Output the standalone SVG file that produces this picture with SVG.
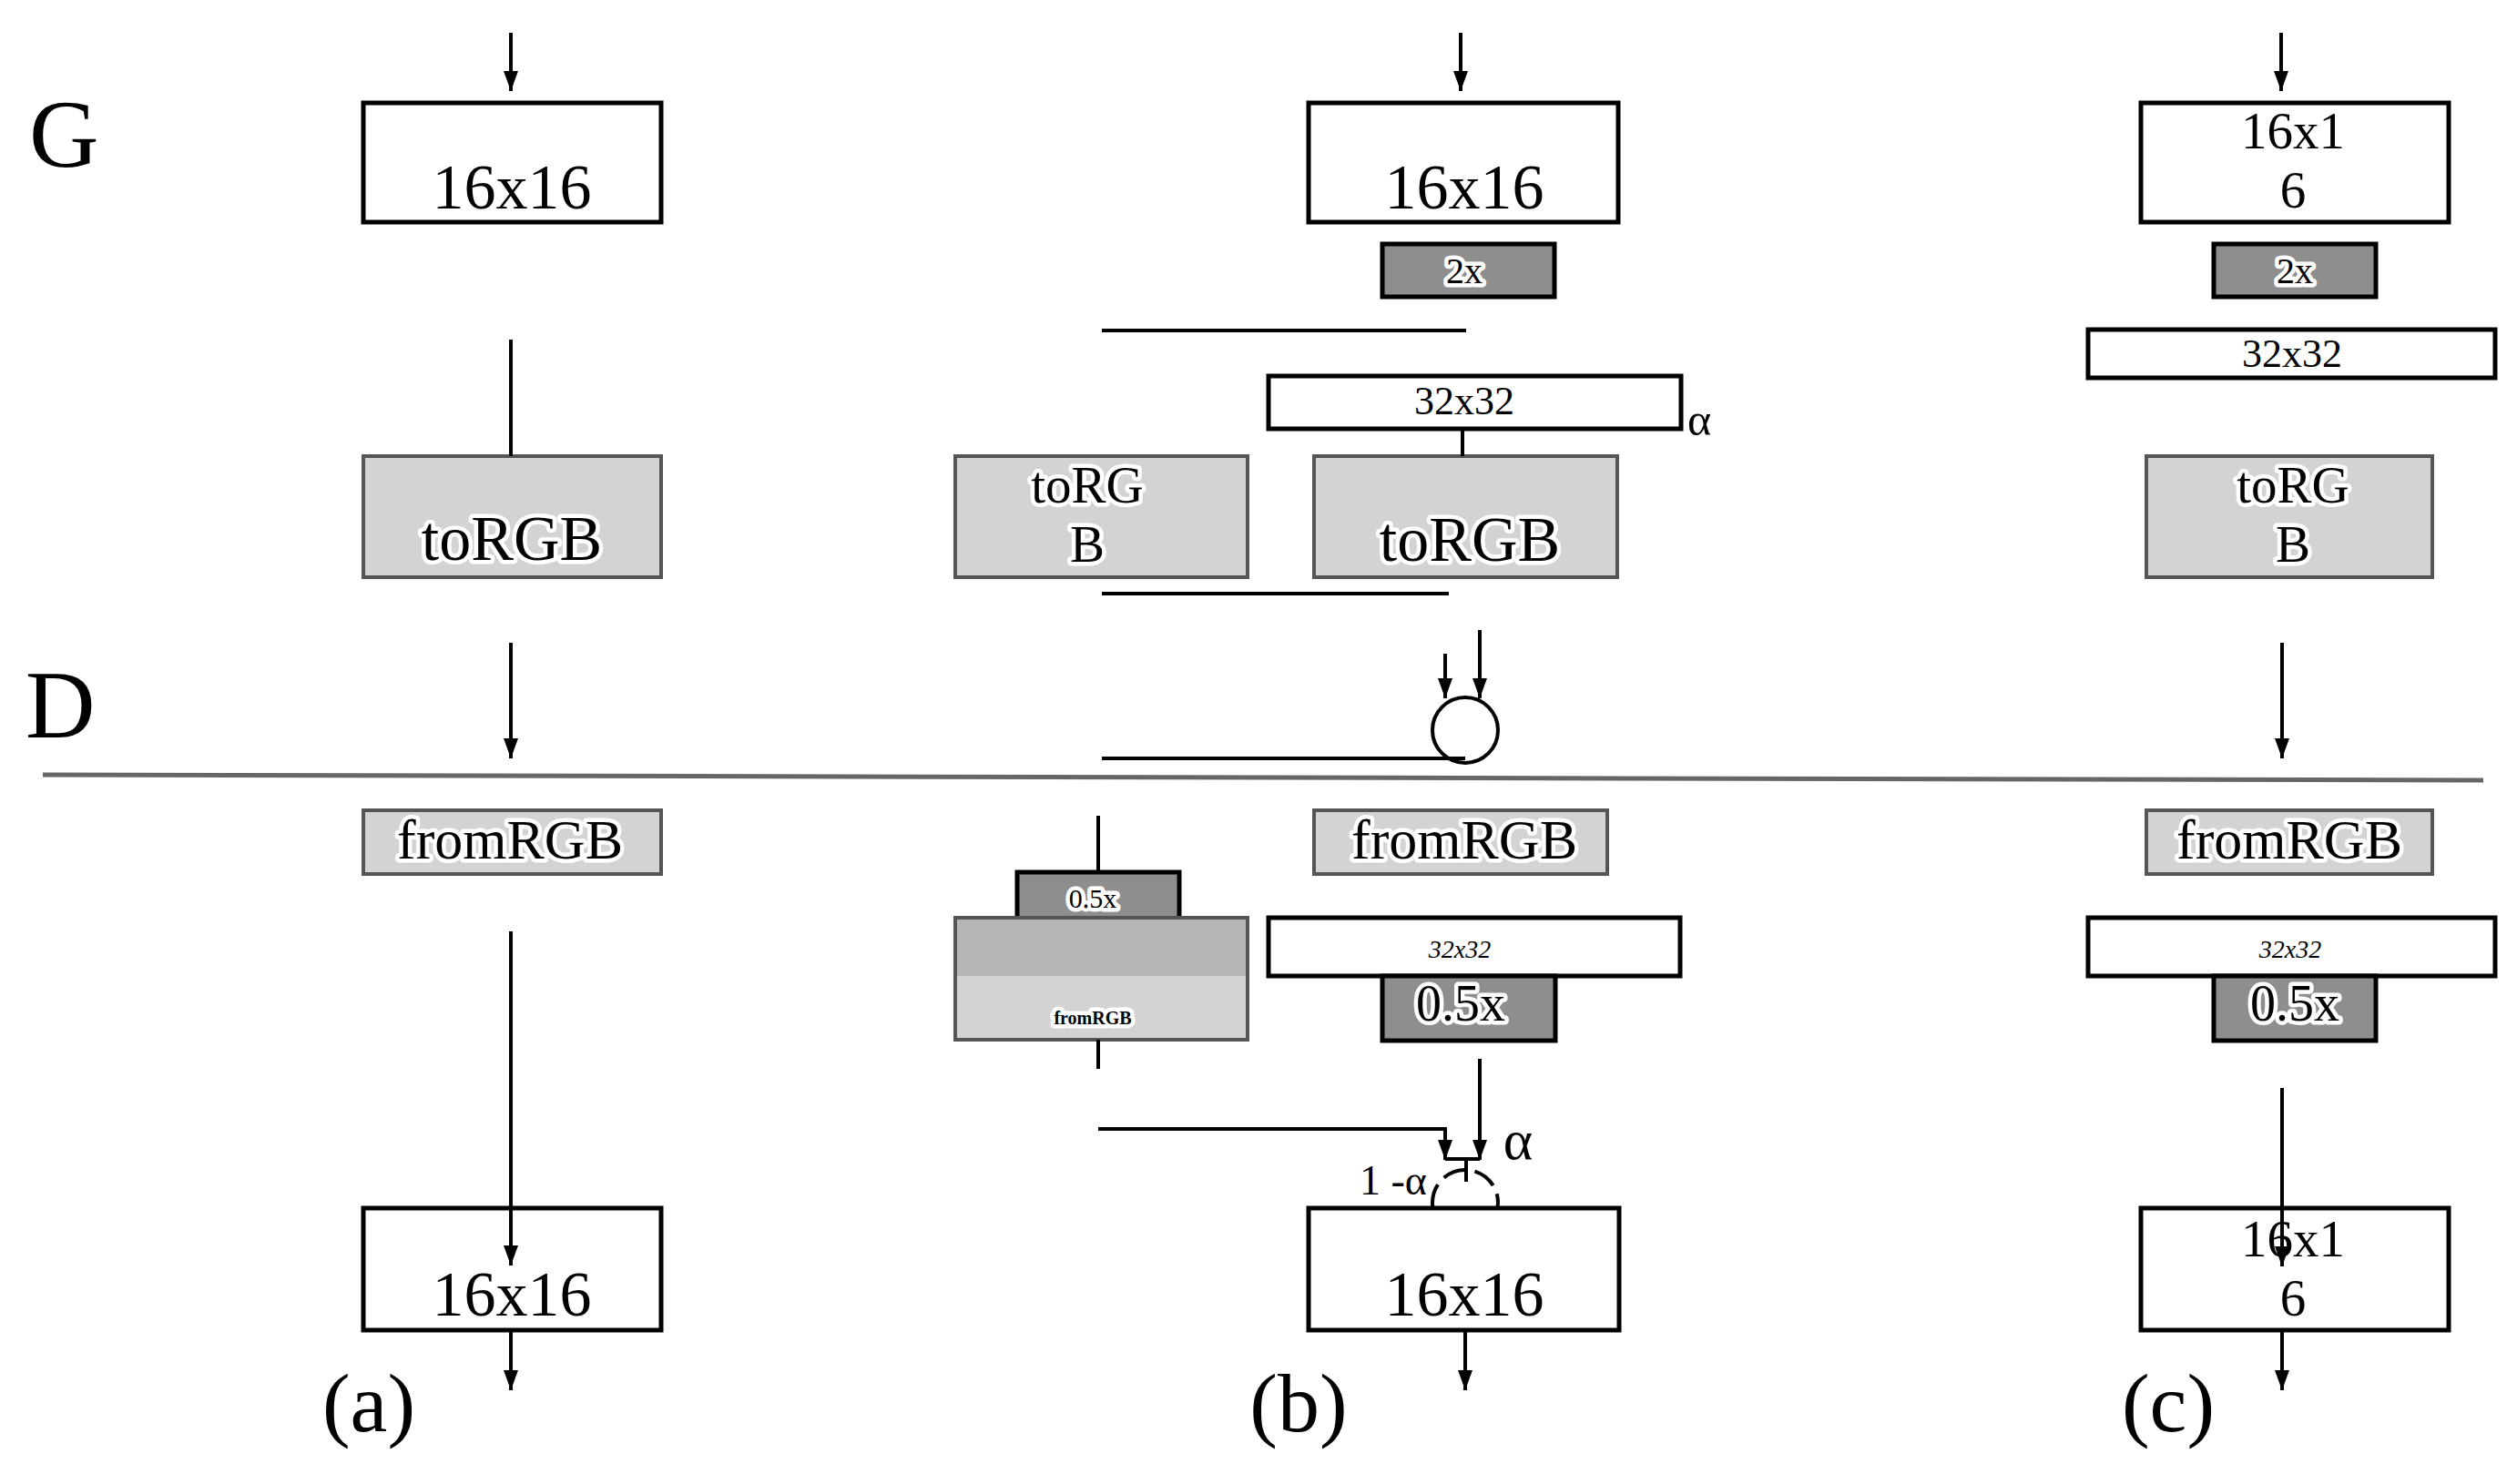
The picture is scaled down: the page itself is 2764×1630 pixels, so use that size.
<svg xmlns="http://www.w3.org/2000/svg" width="2764" height="1630" viewBox="0 0 2764 1630">
<style>
text{font-family:"Liberation Serif","Times New Roman",serif;fill:#000;text-anchor:middle}
.big{font-size:106px;text-anchor:start}
.lab{font-size:70px}
.two{font-size:57px}
.cap{font-size:92px}
.halo{paint-order:stroke;stroke:#fff;stroke-width:9px;stroke-linejoin:round}
.box{fill:#fff;stroke:#000;stroke-width:5}
.rgb{fill:#d3d3d3;stroke:#555;stroke-width:4}
.dark{fill:#8e8e8e;stroke:#000;stroke-width:5}
.ln{stroke:#000;stroke-width:4;fill:none}
.arr{stroke:#000;stroke-width:4;fill:none;marker-end:url(#ah)}
</style>
<defs>
<marker id="ah" markerUnits="userSpaceOnUse" markerWidth="22" markerHeight="16" viewBox="0 0 22 16" refX="22" refY="8" orient="auto">
<path d="M0,0 L22,8 L0,16 z" fill="#000"/>
</marker>
</defs>
<rect width="2764" height="1630" fill="#fff"/>

<g id="labels">
<text class="big" x="32" y="183">G</text>
<text class="big" x="28" y="810">D</text>
<text class="cap" x="405" y="1572">(a)</text>
<text class="cap" x="1426" y="1572">(b)</text>
<text class="cap" x="2381" y="1572">(c)</text>
</g>

<g id="separator">
<line x1="47" y1="851" x2="2727" y2="857" stroke="#666" stroke-width="5"/>
</g>

<!-- column a -->
<g id="a-g16">
<rect class="box" x="399" y="113" width="327" height="131"/>
<text class="lab" x="562" y="229">16x16</text>
</g>
<g id="a-torgb">
<rect class="rgb" x="399" y="501" width="327" height="133"/>
<text class="lab halo" x="562" y="615">toRGB</text>
</g>
<g id="a-fromrgb">
<rect class="rgb" x="399" y="890" width="327" height="70"/>
<text class="halo" x="560" y="943" font-size="62">fromRGB</text>
</g>
<g id="a-d16">
<rect class="box" x="399" y="1327" width="327" height="134"/>
<text class="lab" x="562" y="1445">16x16</text>
</g>

<!-- column b -->
<g id="b-g16">
<rect class="box" x="1437" y="113" width="340" height="131"/>
<text class="lab" x="1608" y="229">16x16</text>
</g>
<g id="b-up2x">
<rect class="dark" x="1518" y="268" width="189" height="58"/>
<text class="halo" x="1608" y="311" font-size="40">2x</text>
</g>
<g id="b-g32">
<rect class="box" x="1393" y="413" width="453" height="58"/>
<text x="1608" y="455" font-size="44">32x32</text>
</g>
<g id="b-alpha-top">
<text x="1866" y="478" font-size="50">α</text>
</g>
<g id="b-torgb-left">
<rect class="rgb" x="1049" y="501" width="321" height="133"/>
<text class="two halo" x="1194" y="552">toRG</text>
<text class="two halo" x="1194" y="617">B</text>
</g>
<g id="b-torgb-right">
<rect class="rgb" x="1443" y="501" width="333" height="133"/>
<text class="lab halo" x="1614" y="616">toRGB</text>
</g>
<g id="b-mix-g">
<circle cx="1609" cy="802" r="36" fill="#fff" stroke="#000" stroke-width="4"/>
</g>
<g id="b-fromrgb">
<rect class="rgb" x="1443" y="890" width="322" height="70"/>
<text class="halo" x="1608" y="943" font-size="62">fromRGB</text>
</g>
<g id="b-down-left">
<rect class="dark" x="1117" y="958" width="178" height="52"/>
<text class="halo" x="1200" y="997" font-size="30">0.5x</text>
</g>
<g id="b-fromrgb-left">
<rect x="1049" y="1008" width="321" height="64" fill="#b5b5b5"/>
<rect x="1049" y="1072" width="321" height="70" fill="#d3d3d3"/>
<rect x="1049" y="1008" width="321" height="134" fill="none" stroke="#555" stroke-width="4"/>
<text class="halo" x="1200" y="1125" font-size="20" font-weight="bold">fromRGB</text>
</g>
<g id="b-d32">
<rect class="box" x="1393" y="1008" width="452" height="64"/>
<text x="1603" y="1052" font-size="28" font-style="italic">32x32</text>
</g>
<g id="b-down">
<rect class="dark" x="1518" y="1072" width="190" height="71"/>
<text class="halo" x="1604" y="1121" font-size="56">0.5x</text>
</g>
<g id="b-mix-d">
<circle cx="1609" cy="1321" r="36" fill="none" stroke="#000" stroke-width="4" stroke-dasharray="26,10"/>
<text x="1667" y="1273" font-size="62">α</text>
<text x="1530" y="1312" font-size="46">1 -α</text>
</g>
<g id="b-d16">
<rect class="box" x="1437" y="1327" width="341" height="134"/>
<text class="lab" x="1608" y="1445">16x16</text>
</g>

<!-- column c -->
<g id="c-g16">
<rect class="box" x="2351" y="113" width="338" height="131"/>
<text class="two" x="2518" y="163">16x1</text>
<text class="two" x="2518" y="228">6</text>
</g>
<g id="c-up2x">
<rect class="dark" x="2431" y="268" width="178" height="58"/>
<text class="halo" x="2520" y="311" font-size="40">2x</text>
</g>
<g id="c-g32">
<rect class="box" x="2293" y="362" width="447" height="53"/>
<text x="2517" y="403" font-size="44">32x32</text>
</g>
<g id="c-torgb">
<rect class="rgb" x="2357" y="501" width="314" height="133"/>
<text class="two halo" x="2518" y="552">toRG</text>
<text class="two halo" x="2518" y="617">B</text>
</g>
<g id="c-fromrgb">
<rect class="rgb" x="2357" y="890" width="314" height="70"/>
<text class="halo" x="2514" y="943" font-size="62">fromRGB</text>
</g>
<g id="c-d32">
<rect class="box" x="2293" y="1008" width="447" height="64"/>
<text x="2515" y="1052" font-size="28" font-style="italic">32x32</text>
</g>
<g id="c-down">
<rect class="dark" x="2431" y="1072" width="178" height="71"/>
<text class="halo" x="2520" y="1121" font-size="56">0.5x</text>
</g>
<g id="c-d16">
<rect class="box" x="2351" y="1327" width="338" height="134"/>
<text class="two" x="2518" y="1380">16x1</text>
<text class="two" x="2518" y="1445">6</text>
</g>

<g id="connectors">
<!-- a -->
<line class="arr" x1="561" y1="36" x2="561" y2="100"/>
<line class="ln" x1="561" y1="373" x2="561" y2="501"/>
<line class="arr" x1="561" y1="706" x2="561" y2="833"/>
<line class="arr" x1="561" y1="1023" x2="561" y2="1390"/>
<line class="arr" x1="561" y1="1461" x2="561" y2="1527"/>
<!-- b -->
<line class="arr" x1="1604" y1="36" x2="1604" y2="100"/>
<line class="ln" x1="1210" y1="363" x2="1610" y2="363"/>
<line class="ln" x1="1606" y1="471" x2="1606" y2="501"/>
<line class="ln" x1="1210" y1="652" x2="1591" y2="652"/>
<line class="arr" x1="1587" y1="718" x2="1587" y2="767"/>
<line class="arr" x1="1625" y1="692" x2="1625" y2="767"/>
<line class="ln" x1="1210" y1="833" x2="1609" y2="833"/>
<line class="ln" x1="1206" y1="896" x2="1206" y2="960"/>
<line class="ln" x1="1206" y1="1142" x2="1206" y2="1174"/>
<path class="arr" d="M1206,1240 L1587,1240 L1587,1274"/>
<line class="arr" x1="1625" y1="1163" x2="1625" y2="1274"/>
<line class="ln" x1="1587" y1="1273" x2="1625" y2="1273"/>
<line class="ln" x1="1610" y1="1273" x2="1610" y2="1298"/>
<line class="arr" x1="1609" y1="1461" x2="1609" y2="1527"/>
<!-- c -->
<line class="arr" x1="2505" y1="36" x2="2505" y2="100"/>
<line class="arr" x1="2506" y1="706" x2="2506" y2="833"/>
<line class="arr" x1="2506" y1="1195" x2="2506" y2="1391"/>
<line class="arr" x1="2506" y1="1461" x2="2506" y2="1527"/>
</g>
</svg>
